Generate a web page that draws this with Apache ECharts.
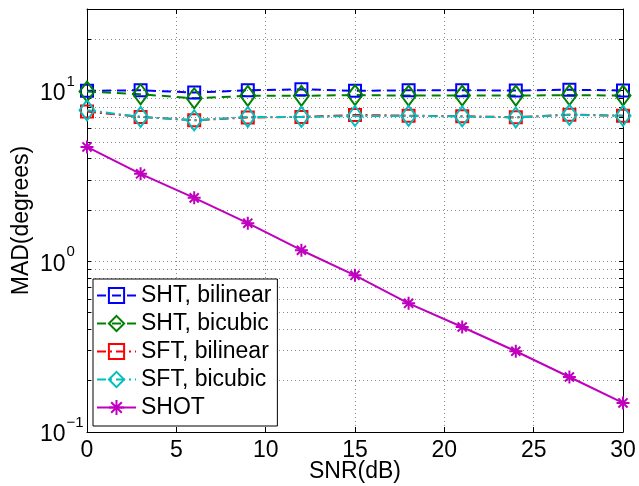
<!DOCTYPE html>
<html>
<head>
<meta charset="utf-8">
<script src="https://cdn.jsdelivr.net/npm/echarts@6/dist/echarts.min.js"></script>
<style>
html,body{margin:0;padding:0;background:#fff;}
#chart{width:639px;height:486px;}
</style>
</head>
<body>
<div id="chart"></div>
<script>
const snr = [0, 3, 6, 9, 12, 15, 18, 21, 24, 27, 30];
const shtBilinear = [9.95, 10.03, 9.72, 10.03, 10.16, 9.95, 10.03, 10.03, 10.0, 10.1, 10.0];
const shtBicubic = [9.85, 9.5, 9.0, 9.3, 9.3, 9.4, 9.33, 9.33, 9.33, 9.4, 9.33];
const sftBilinear = [7.52, 7.0, 6.69, 6.94, 7.0, 7.19, 7.12, 7.06, 6.97, 7.22, 7.12];
const sftBicubic = [7.66, 7.0, 6.69, 7.0, 7.0, 7.09, 7.1, 7.05, 6.95, 7.2, 7.1];
const shot = [4.67, 3.25, 2.35, 1.67, 1.16, 0.827, 0.567, 0.412, 0.297, 0.210, 0.148];
const seriesNames = ['SHT, bilinear', 'SHT, bicubic', 'SFT, bilinear', 'SFT, bicubic', 'SHOT'];
const yTickValues = [0.1, 0.2, 0.3, 0.4, 0.5, 0.6, 0.7, 0.8, 0.9, 1, 2, 3, 4, 5, 6, 7, 8, 9, 10, 20, 30];
const yLabelValues = [0.1, 1, 10];

const FONT = 'Liberation Sans';
const pairs = arr => snr.map((x, i) => [x, arr[i]]);
const asterisk = 'path://M10,0L10,20M0,10L20,10M3,3L17,17M3,17L17,3';

function mk(name, data, color, dash, symbol, size) {
  return {
    name: name, type: 'line', data: pairs(data),
    symbol: symbol, symbolSize: size,
    lineStyle: {color: color, width: 2, type: dash},
    itemStyle: {color: 'transparent', borderColor: color, borderWidth: 2},
    emphasis: {disabled: true}
  };
}

const chart = echarts.init(document.getElementById('chart'), null, {renderer: 'canvas'});
chart.setOption({
  animation: false,
  backgroundColor: '#fff',
  textStyle: {fontFamily: FONT},
  grid: {left: 87, right: 16, top: 9, bottom: 54, containLabel: false, outerBoundsMode: 'none'},
  legend: {
    orient: 'vertical', left: 93, top: 279,
    data: seriesNames,
    backgroundColor: '#fff', borderColor: '#000', borderWidth: 1,
    padding: [5, 6, 7, 3],
    itemWidth: 39, itemHeight: 19, itemGap: 5,
    textStyle: {fontSize: 23, lineHeight: 23, color: '#000', fontFamily: FONT}
  },
  xAxis: [{
    type: 'value', min: 0, max: 30, interval: 5,
    name: 'SNR(dB)', nameLocation: 'middle', nameGap: 28, nameMoveOverlap: false,
    nameTextStyle: {fontSize: 23, color: '#000', fontFamily: FONT},
    axisLine: {show: true, onZero: false, lineStyle: {color: '#000', width: 1}},
    axisTick: {show: true, inside: true, length: 5, lineStyle: {color: '#000'}},
    axisLabel: {fontSize: 23, color: '#000', margin: 7, fontFamily: FONT},
    splitLine: {show: true, lineStyle: {color: '#8a8a8a', type: [1, 3], width: 1}}
  }, {
    type: 'value', min: 0, max: 30, interval: 5, position: 'top',
    axisLine: {show: true, onZero: false, lineStyle: {color: '#000', width: 1}},
    axisTick: {show: true, inside: true, length: 5, lineStyle: {color: '#000'}},
    axisLabel: {show: false}, splitLine: {show: false}
  }],
  yAxis: [{
    type: 'log', min: 0.1, max: 30, logBase: 10,
    name: 'MAD(degrees)', nameLocation: 'middle', nameGap: 54, nameMoveOverlap: false,
    nameTextStyle: {fontSize: 23, color: '#000', fontFamily: FONT},
    axisLine: {show: true, onZero: false, lineStyle: {color: '#000', width: 1}},
    axisTick: {show: true, inside: true, length: 4, customValues: yTickValues, lineStyle: {color: '#000'}},
    axisLabel: {
      customValues: yLabelValues, align: 'left', margin: 47, color: '#000',
      formatter: function (v) {
        const e = Math.round(Math.log10(v));
        return '{b|10}{s|' + (e < 0 ? '\u2212' + (-e) : e) + '}';
      },
      rich: {
        b: {fontSize: 23, fontFamily: FONT, color: '#000', padding: [8, 0, 2, 0]},
        s: {fontSize: 15, fontFamily: FONT, color: '#000', verticalAlign: 'top', padding: [0, 0, 0, 1]}
      }
    },
    splitLine: {show: true, lineStyle: {color: '#8a8a8a', type: [1, 3], width: 1}}
  }, {
    type: 'log', min: 0.1, max: 30, logBase: 10, position: 'right',
    axisLine: {show: true, onZero: false, lineStyle: {color: '#000', width: 1}},
    axisTick: {show: true, inside: true, length: 4, customValues: yTickValues, lineStyle: {color: '#000'}},
    axisLabel: {show: false}, splitLine: {show: false}
  }],
  series: [
    mk(seriesNames[0], shtBilinear, '#0000ff', [9, 6], 'rect', 12),
    mk(seriesNames[1], shtBicubic, '#008000', [9, 6], 'diamond', [15, 20]),
    mk(seriesNames[2], sftBilinear, '#ff0000', [9, 4, 2, 4], 'rect', 12),
    mk(seriesNames[3], sftBicubic, '#00bfbf', [9, 4, 2, 4], 'diamond', [15, 20]),
    {
      name: seriesNames[4], type: 'line', data: pairs(shot),
      symbol: asterisk, symbolSize: 13,
      lineStyle: {color: '#bf00bf', width: 2, type: 'solid'},
      itemStyle: {color: '#bf00bf', borderColor: '#bf00bf', borderWidth: 2},
      emphasis: {disabled: true}
    }
  ]
});
</script>
</body>
</html>
